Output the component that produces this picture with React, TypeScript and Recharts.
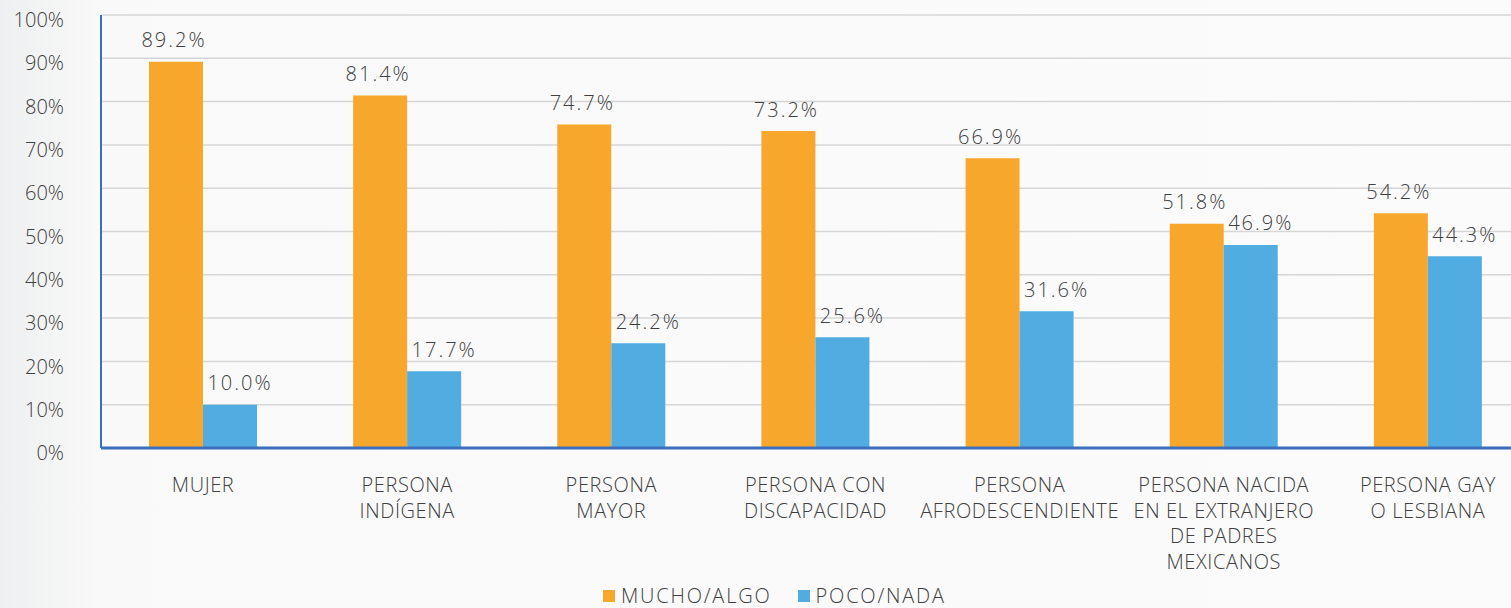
import React from 'react';
import { BarChart, Bar, XAxis, YAxis, CartesianGrid, LabelList, Legend } from 'recharts';

const categories: string[][] = [
  ['MUJER'],
  ['PERSONA', 'INDÍGENA'],
  ['PERSONA', 'MAYOR'],
  ['PERSONA CON', 'DISCAPACIDAD'],
  ['PERSONA', 'AFRODESCENDIENTE'],
  ['PERSONA NACIDA', 'EN EL EXTRANJERO', 'DE PADRES', 'MEXICANOS'],
  ['PERSONA GAY', 'O LESBIANA'],
];
const muchoAlgo = [89.2, 81.4, 74.7, 73.2, 66.9, 51.8, 54.2];
const pocoNada = [10.0, 17.7, 24.2, 25.6, 31.6, 46.9, 44.3];
const yTicks = [0, 10, 20, 30, 40, 50, 60, 70, 80, 90, 100];
const seriesNames = ['MUCHO/ALGO', 'POCO/NADA'];

const ORANGE = '#F8A72D';
const BLUE = '#50ACE1';
const AXIS = '#3A6FBE';
const TEXT = '#404040';
const FONT = '"Open Sans", "Noto Sans", sans-serif';

const data = categories.map((lines, i) => ({
  name: lines.join(' '),
  lines,
  a: muchoAlgo[i],
  b: pocoNada[i],
}));

const XTick = (props: any) => {
  const { x, y, payload, index } = props;
  const lines = categories[index] || [String(payload.value)];
  return (
    <text x={x} y={y} textAnchor="middle" fill={TEXT} fontSize={20} fontWeight={300} fontFamily={FONT} letterSpacing={0.6}>
      {lines.map((l, i) => (
        <tspan key={i} x={x} dy={i === 0 ? 0 : 25.5}>
          {l}
        </tspan>
      ))}
    </text>
  );
};

const makeLabel = (dx: number) => (props: any) => {
  const { x, y, width, value } = props;
  return (
    <text
      x={x + width / 2 + dx}
      y={y - 22}
      textAnchor="middle"
      dominantBaseline="central"
      fill={TEXT}
      fontSize={20}
      fontWeight={300}
      fontFamily={FONT}
      letterSpacing={2}
    >
      {Number(value).toFixed(1) + '%'}
    </text>
  );
};

const LegendContent = () => (
  <div
    style={{
      display: 'flex',
      alignItems: 'center',
      fontFamily: FONT,
      fontWeight: 300,
      fontSize: 20,
      color: TEXT,
      lineHeight: '24px',
      letterSpacing: 1.8,
    }}
  >
    {seriesNames.map((n, i) => (
      <div key={n} style={{ display: 'flex', alignItems: 'center', marginRight: i === 0 ? 26 : 0 }}>
        <div style={{ width: 12, height: 12, background: i === 0 ? ORANGE : BLUE, marginRight: 6 }} />
        <span>{n}</span>
      </div>
    ))}
  </div>
);

export default function App() {
  return (
    <div
      style={{
        position: 'absolute',
        left: 0,
        top: 0,
        width: 1511,
        height: 608,
        overflow: 'hidden',
        background: 'linear-gradient(to right, #eeeff0 0px, #f9f9f9 100px, #fbfbfb 100%)',
      }}
    >
      <BarChart
        width={1532}
        height={608}
        data={data}
        margin={{ top: 15, right: 2, left: 0, bottom: 0 }}
        barCategoryGap={48}
        barGap={0}
      >
        <CartesianGrid vertical={false} stroke="#d6d6d6" strokeWidth={1.5} />
        <XAxis
          dataKey="name"
          tick={<XTick />}
          tickLine={false}
          axisLine={{ stroke: AXIS, strokeWidth: 3 }}
          height={136}
          interval={0}
          tickMargin={38}
        />
        <YAxis
          domain={[0, 100]}
          ticks={yTicks}
          tickFormatter={(v: number) => `${v}%`}
          width={101}
          tickLine={false}
          axisLine={{ stroke: AXIS, strokeWidth: 2 }}
          tickMargin={31}
          tick={{ fill: TEXT, fontSize: 20, fontWeight: 300, fontFamily: FONT, dy: 5 }}
          interval={0}
        />
        <Legend content={<LegendContent />} wrapperStyle={{ left: 603, top: 584, width: 'auto' }} />
        <Bar dataKey="a" name={seriesNames[0]} fill={ORANGE} isAnimationActive={false}>
          <LabelList dataKey="a" content={makeLabel(-2)} />
        </Bar>
        <Bar dataKey="b" name={seriesNames[1]} fill={BLUE} isAnimationActive={false}>
          <LabelList dataKey="b" content={makeLabel(10)} />
        </Bar>
      </BarChart>
    </div>
  );
}
